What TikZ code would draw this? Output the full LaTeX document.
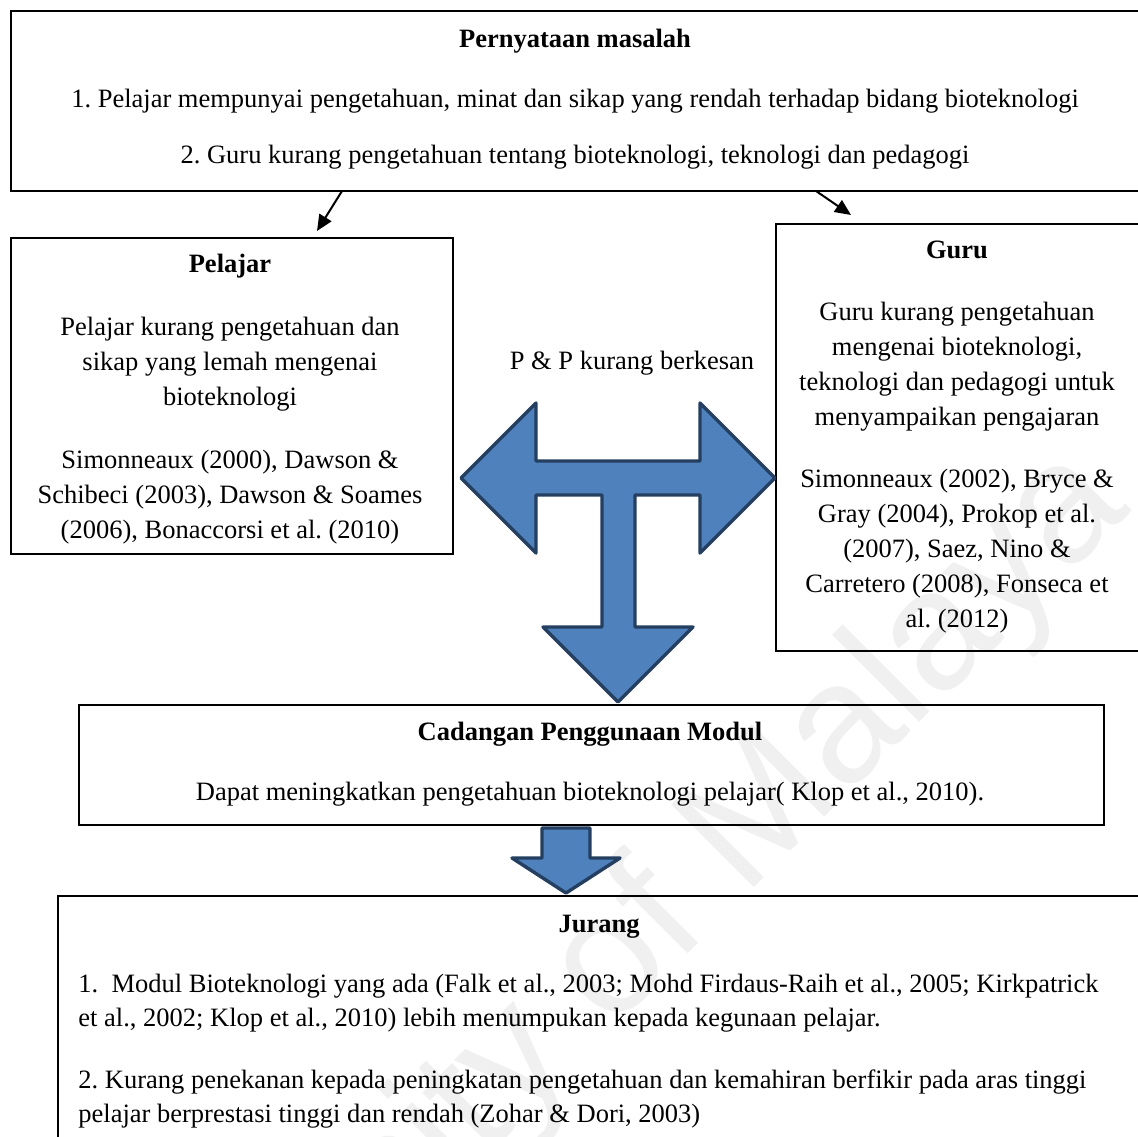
\documentclass[tikz,border=0pt]{standalone}
\usepackage{fontspec}
\setmainfont{Liberation Serif}
\newfontfamily\wmfont{Liberation Sans}
\usetikzlibrary{arrows.meta}
\definecolor{arrowfill}{HTML}{4F81BD}
\definecolor{arrowline}{HTML}{243F60}
\frenchspacing

\begin{document}
\begin{tikzpicture}[x=0.5pt,y=-0.5pt,
  frame/.style={draw=black, line width=1pt, inner sep=0pt, anchor=north west},
  txt/.style={font=\fontsize{13.25}{17.5}\selectfont, inner sep=0pt},
  ttl/.style={font=\fontsize{13.25}{17.5}\selectfont\bfseries, inner sep=0pt, anchor=base},
  ln/.style={txt, anchor=base},
  lnl/.style={txt, anchor=base west},
  thinarrow/.style={-{Triangle[length=8pt,width=7pt]}, line width=1pt},
  blockarrow/.style={fill=arrowfill, draw=arrowline, line width=1.7pt, line join=round},
  wm/.style={font=\wmfont\fontsize{85}{85}\selectfont, text=black!6, inner sep=0pt}]

\useasboundingbox (0,0) rectangle (1138,1136);
\clip (0,0) rectangle (1138,1136);

% faint watermark
\node[wm, rotate=45] (wmark) at (560,1020) {University of Malaya};

% boxes
\node[frame, minimum width=565pt, minimum height=90pt] (top) at (10,10) {};
\node[frame, minimum width=221pt, minimum height=158pt] (pel) at (10,237) {};
\node[frame, minimum width=182.5pt, minimum height=213.5pt] (guru) at (775,223) {};
\node[frame, minimum width=512.5pt, minimum height=60pt] (cad) at (78,704) {};
\node[frame, minimum width=542pt, minimum height=140pt] (jur) at (57,895) {};

% problem statement
\node[ttl] (topT) at (575,47) {Pernyataan masalah};
\node[ln] (top1) at (575,107) {1. Pelajar mempunyai pengetahuan, minat dan sikap yang rendah terhadap bidang bioteknologi};
\node[ln] (top2) at (575,163) {2. Guru kurang pengetahuan tentang bioteknologi, teknologi dan pedagogi};

% students
\node[ttl] (pelT) at (230,272) {Pelajar};
\node[ln] (pel1) at (230,335) {Pelajar kurang pengetahuan dan};
\node[ln] (pel2) at (230,370) {sikap yang lemah mengenai};
\node[ln] (pel3) at (230,405) {bioteknologi};
\node[ln] (pel4) at (230,468) {Simonneaux (2000), Dawson \&};
\node[ln] (pel5) at (230,503) {Schibeci (2003), Dawson \& Soames};
\node[ln] (pel6) at (230,538) {(2006), Bonaccorsi et al. (2010)};

% teachers
\node[ttl] (guruT) at (957,258) {Guru};
\node[ln] (guru1) at (957,320) {Guru kurang pengetahuan};
\node[ln] (guru2) at (957,355) {mengenai bioteknologi,};
\node[ln] (guru3) at (957,390) {teknologi dan pedagogi untuk};
\node[ln] (guru4) at (957,425) {menyampaikan pengajaran};
\node[ln] (guru5) at (957,487) {Simonneaux (2002), Bryce \&};
\node[ln] (guru6) at (957,522) {Gray (2004), Prokop et al.};
\node[ln] (guru7) at (957,557) {(2007), Saez, Nino \&};
\node[ln] (guru8) at (957,592) {Carretero (2008), Fonseca et};
\node[ln] (guru9) at (957,627) {al. (2012)};

% middle label
\node[ln] (pp) at (632,369) {P \& P kurang berkesan};

% proposal
\node[ttl] (cadT) at (590,740) {Cadangan Penggunaan Modul};
\node[ln] (cad1) at (590,800) {Dapat meningkatkan pengetahuan bioteknologi pelajar( Klop et al., 2010).};

% gap
\node[ttl] (jurT) at (599,932) {Jurang};
\node[lnl] (jur1) at (78,992) {1.\ \ Modul Bioteknologi yang ada (Falk et al., 2003; Mohd Firdaus-Raih et al., 2005; Kirkpatrick};
\node[lnl] (jur2) at (78,1026) {et al., 2002; Klop et al., 2010) lebih menumpukan kepada kegunaan pelajar.};
\node[lnl] (jur3) at (78,1088) {2. Kurang penekanan kepada peningkatan pengetahuan dan kemahiran berfikir pada aras tinggi};
\node[lnl] (jur4) at (78,1122) {pelajar berprestasi tinggi dan rendah (Zohar \& Dori, 2003)};

% thin connectors from the problem statement
\coordinate (a1s) at (342,191);
\coordinate (a1e) at (317,231);
\coordinate (a2s) at (816,191);
\coordinate (a2e) at (851,215);
\draw[thinarrow] (a1s) -- (a1e);
\draw[thinarrow] (a2s) -- (a2e);

% three-way block arrow
\draw[blockarrow] (461,478) -- (536,403) -- (536,461) -- (700,461) -- (700,403)
  -- (775,478) -- (700,553) -- (700,495) -- (635,495) -- (635,627) -- (693,627)
  -- (618,702) -- (543,627) -- (602,627) -- (602,495) -- (536,495) -- (536,553) -- cycle;

% down block arrow
\draw[blockarrow] (542,828) -- (590,828) -- (590,858) -- (620,858) -- (566,893)
  -- (512,858) -- (542,858) -- cycle;

\end{tikzpicture}
\end{document}
